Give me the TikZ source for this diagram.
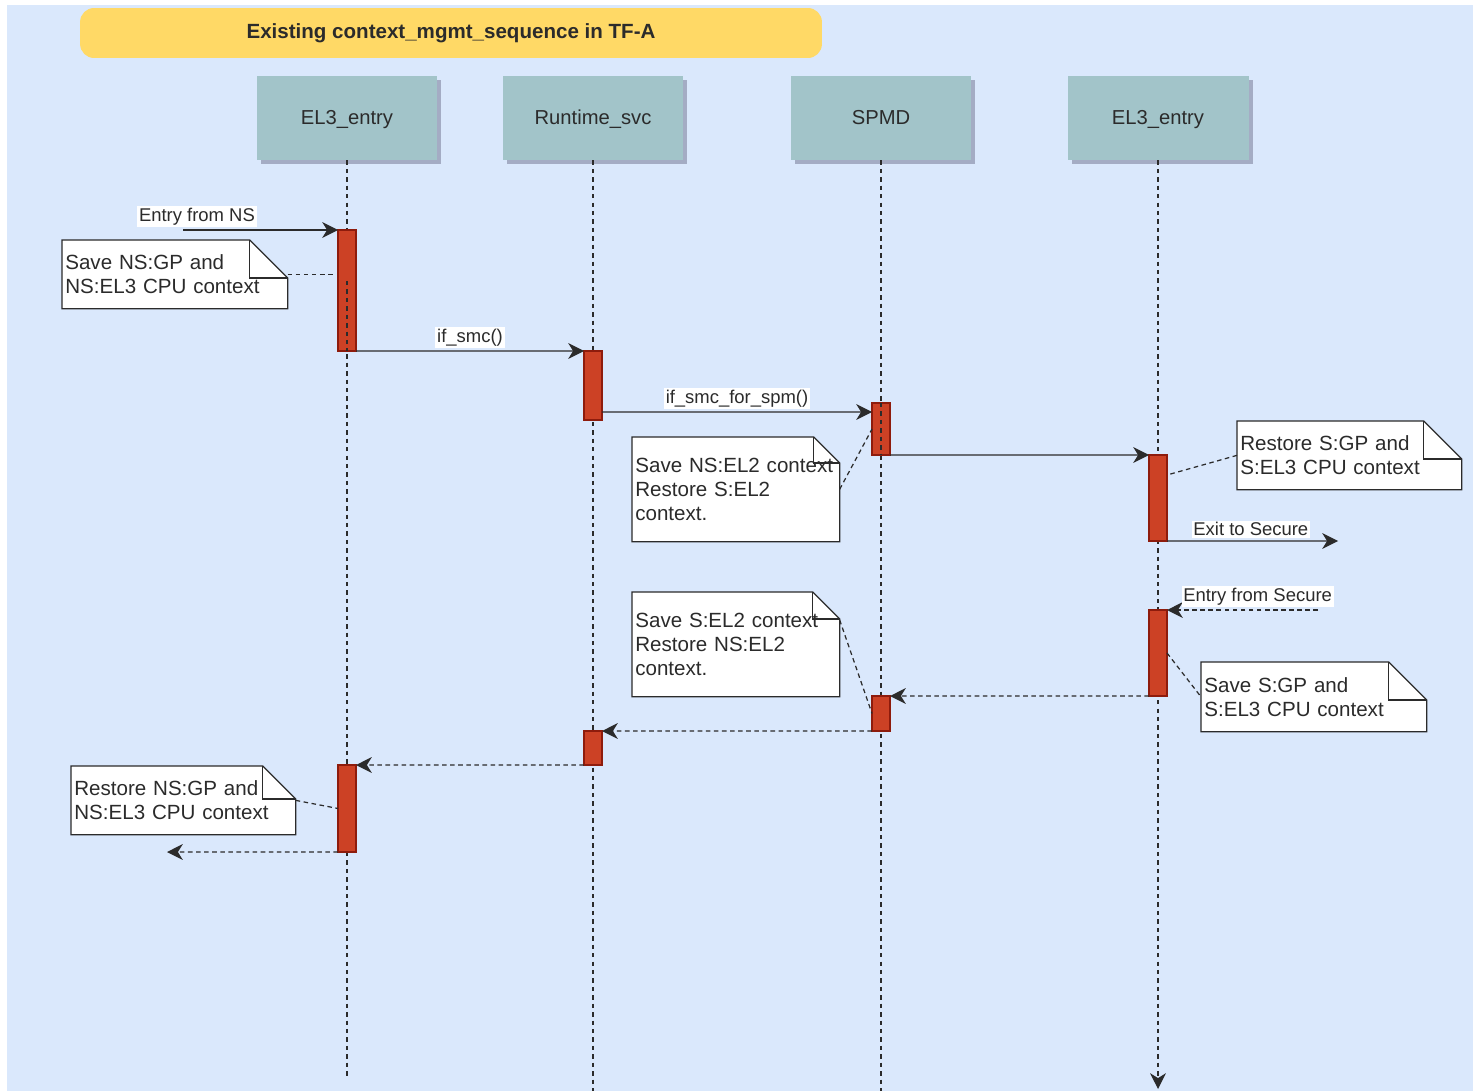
\documentclass[tikz,border=0pt]{standalone}
\usepackage{fontspec}
\setmainfont{Liberation Sans}
\usetikzlibrary{arrows.meta,shadows}
\definecolor{PanelBlue}{HTML}{DAE8FC}
\definecolor{TitleGold}{HTML}{FFD966}
\definecolor{ActorTeal}{HTML}{A2C4C9}
\definecolor{ShadowGray}{HTML}{A4ACC4}
\definecolor{BarRed}{HTML}{CC4125}
\definecolor{BarEdge}{HTML}{8E1B0C}
\definecolor{InkGray}{HTML}{2B2B2B}
\pgfdeclarelayer{back}
\pgfsetlayers{back,main}

\begin{document}
\begin{tikzpicture}[
      x=0.02cm, y=-0.02cm,
      title/.style={
        rounded corners=8pt,
        fill=TitleGold,
        minimum width=14.84cm,
        minimum height=1cm,
        text=InkGray,
        font=\fontsize{11.7}{14}\selectfont\bfseries
      },
      actor/.style={
        fill=ActorTeal,
        minimum width=3.62cm,
        minimum height=1.68cm,
        text height=8.5pt,
        text depth=1.5pt,
        text=InkGray,
        font=\fontsize{11.5}{13}\selectfont,
        drop shadow={shadow xshift=0.08cm, shadow yshift=-0.08cm, fill=ShadowGray, opacity=1}
      },
      bar/.style={
        fill=BarRed,
        draw=BarEdge,
        line width=0.6pt,
        minimum width=0.36cm,
        inner sep=0pt,
        outer sep=0pt,
        anchor=north
      },
      note/.style={
        anchor=north west,
        inner xsep=0.06cm,
        inner ysep=0pt,
        align=left,
        text=InkGray,
        font=\fontsize{11.7}{13.7}\selectfont
      },
      notebody/.style={fill=white, draw=InkGray, line width=0.7pt},
      lbl/.style={fill=white, inner sep=1pt, text=InkGray, font=\fontsize{10.5}{12}\selectfont},
      life/.style={draw=InkGray, line width=0.7pt, dash pattern=on 2.5pt off 2.3pt},
      msg/.style={draw=InkGray, line width=0.8pt, -{Stealth[length=9pt,width=9pt,inset=2.8pt]}},
      ret/.style={msg, dash pattern=on 2.6pt off 2pt},
      link/.style={draw=InkGray, line width=0.7pt, dash pattern=on 2.6pt off 2pt}
    ]
      \useasboundingbox (0,0) rectangle (1473,1091);

      % header and participants
      \node[title] (ttl) at (451,33) {Existing context\_mgmt\_sequence in TF-A};
      \node[actor] (el3a) at (347,118) {EL3\_entry};
      \node[actor] (rsvc) at (593,118) {Runtime\_svc};
      \node[actor] (spmd) at (881,118) {SPMD};
      \node[actor] (el3b) at (1158,118) {EL3\_entry};

      % lifelines
      \coordinate (endA) at (347,1078);
      \coordinate (endR) at (593,1091);
      \coordinate (endS) at (881,1091);
      \coordinate (endE) at (1158,1089);
      \draw[life] (el3a.south) -- (endA);
      \draw[life] (rsvc.south) -- (endR);
      \draw[life] (spmd.south) -- (endS);
      \draw[life, -{Stealth[length=9pt,width=9pt,inset=2.8pt]}] (el3b.south) -- (endE);

      % activations
      \node[bar, minimum height=2.42cm] (a1) at (347,230) {};
      \node[bar, minimum height=1.38cm] (r1) at (593,351) {};
      \node[bar, minimum height=1.04cm] (s1) at (881,403) {};
      \node[bar, minimum height=1.72cm] (e1) at (1158,455) {};
      \node[bar, minimum height=1.72cm] (e2) at (1158,610) {};
      \node[bar, minimum height=0.70cm] (s2) at (881,696) {};
      \node[bar, minimum height=0.68cm] (r2) at (593,731) {};
      \node[bar, minimum height=1.74cm] (a2) at (347,765) {};
      \draw[life] (s1.north) -- (s1.south);
      \draw[life] ([yshift=1.4cm]a1.south) -- (a1.south);

      % notes
      \node[note, text width=4.38cm, minimum height=1.36cm] (n1) at (62,240)
        {Save NS:GP and\\NS:EL3 CPU context};
      \node[note, text width=4.02cm, minimum height=2.08cm] (n2) at (632,437)
        {Save NS:EL2 context\\Restore S:EL2\\context.};
      \node[note, text width=4.36cm, minimum height=1.36cm] (n3) at (1237,421)
        {Restore S:GP and\\S:EL3 CPU context};
      \node[note, text width=4.02cm, minimum height=2.08cm] (n4) at (632,592)
        {Save S:EL2 context\\Restore NS:EL2\\context.};
      \node[note, text width=4.38cm, minimum height=1.38cm] (n5) at (1201,662)
        {Save S:GP and\\S:EL3 CPU context};
      \node[note, text width=4.36cm, minimum height=1.36cm] (n6) at (71,766)
        {Restore NS:GP and\\NS:EL3 CPU context};

      \begin{pgfonlayer}{back}
        \fill[PanelBlue] (7,5) rectangle (1473,1091);
        \foreach \n/\f in {n1/0.76,n2/0.52,n3/0.76,n4/0.54,n5/0.76,n6/0.66}
          \draw[notebody] (\n.south west) -- (\n.north west) -- ([xshift=-\f cm]\n.north east)
            -- ([yshift=-\f cm]\n.north east) -- (\n.south east) -- cycle;
      \end{pgfonlayer}
      \foreach \n/\f in {n1/0.76,n2/0.52,n3/0.76,n4/0.54,n5/0.76,n6/0.66}
        \draw[notebody, fill=none] ([xshift=-\f cm]\n.north east)
          |- ([yshift=-\f cm]\n.north east);

      % note links
      \draw[link] (n1.east) -- ([xshift=-0.1cm]n1.east -| a1.west);
      \draw[link] (n2.east) -- (s1.west);
      \draw[link] (n3.west) -- ([yshift=-0.4cm]e1.north east);
      \draw[link] ([yshift=-0.56cm]n4.north east) -- (s2.west);
      \draw[link] (e2.east) -- (n5.west);
      \draw[link] (n6.east) -- (a2.west);

      % messages
      \coordinate (fromNS) at (183,230);
      \coordinate (toSec) at (1338,541);
      \coordinate (fromSec) at (1318,610);
      \coordinate (toNS) at (167,852);
      \draw[msg] (fromNS) -- (a1.north west)
        node[lbl, pos=0.09, above=1.5pt] (lEntryNS) {Entry from NS};
      \draw[msg] (a1.south east) -- (r1.north west)
        node[lbl, pos=0.5, above=1.5pt] (lSmc) {if\_smc()};
      \draw[msg] ([yshift=0.16cm]r1.south east) -- ([yshift=-0.18cm]s1.north west)
        node[lbl, pos=0.5, above=1.5pt] (lSpm) {if\_smc\_for\_spm()};
      \draw[msg] (s1.south east) -- (e1.north west);
      \draw[msg] (e1.south east) -- (toSec)
        node[lbl, pos=0.49, above=1.5pt] (lExit) {Exit to Secure};
      \draw[ret] (fromSec) -- (e2.north east)
        node[lbl, pos=0.4, above=1.5pt] (lEntrySec) {Entry from Secure};
      \draw[ret] (e2.south west) -- (s2.north east);
      \draw[ret] (s2.south west) -- (r2.north east);
      \draw[ret] (r2.south west) -- (a2.north east);
      \draw[ret] (a2.south west) -- (toNS);
    \end{tikzpicture}
\end{document}
